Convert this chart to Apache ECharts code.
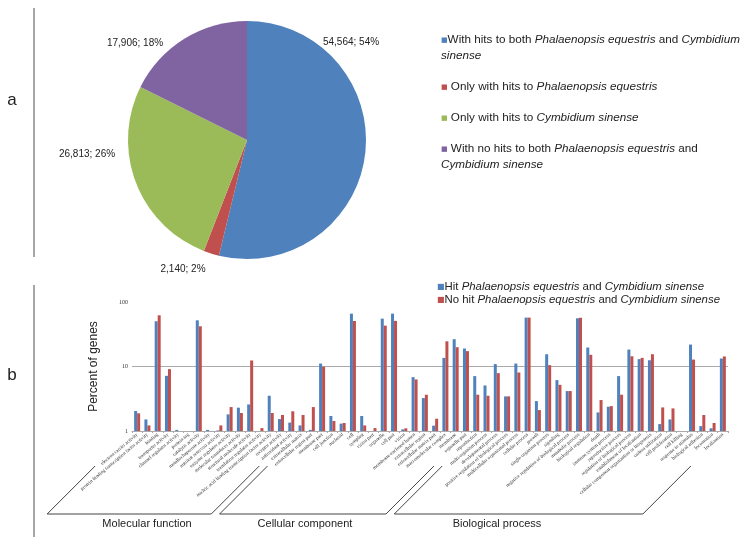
<!DOCTYPE html>
<html><head><meta charset="utf-8">
<script src="https://cdn.jsdelivr.net/npm/echarts@6/dist/echarts.min.js"></script>
<style>html,body{margin:0;padding:0;background:#fff}#c{width:748px;height:542px}</style>
</head><body><div id="c"></div>
<script>
// ---- Panel a data ----
const pieNames = [
  'With hits to both Phalaenopsis equestris and Cymbidium sinense',
  'Only with hits to Phalaenopsis equestris',
  'Only with hits to Cymbidium sinense',
  'With no hits to both Phalaenopsis equestris and Cymbidium sinense'
];
const pieValues = [54564, 2140, 26813, 17906];
const pieColors = ['#4F81BD', '#C0504D', '#9BBB59', '#8064A2'];

// ---- Panel b data ----
const categories = [
  'electron carrier activity','protein binding transcription factor activity','binding','transporter activity',
  'channel regulator activity','protein tag','catalytic activity','metallochaperone activity',
  'nutrient reservoir activity','enzyme regulator activity','molecular transducer activity','structural molecule activity',
  'translation regulator activity','nucleic acid binding transcription factor activity','receptor activity','antioxidant activity',
  'extracellular matrix','extracellular region part','membrane part','cell junction','nucleoid','cell','symplast',
  'virion part','organelle','cell part','virion','membrane-enclosed lumen','extracellular region',
  'extracellular matrix part','macromolecular complex','membrane','organelle part',
  'reproduction','multi-organism process','developmental process','positive regulation of biological process',
  'multicellular organismal process','cellular process','growth','single-organism process','signaling',
  'negative regulation of biological process','metabolic process','biological regulation','death',
  'immune system process','reproductive process','regulation of biological process','establishment of localization',
  'cellular component organization or biogenesis','carbon utilization','cell proliferation','cell killing',
  'response to stimulus','biological adhesion','locomotion','localization'
];
const groupNames = ['Molecular function', 'Cellular component', 'Biological process'];
const groupSizes = [16, 17, 25];
const seriesNames = [
  'Hit Phalaenopsis equestris and Cymbidium sinense',
  'No hit Phalaenopsis equestris and Cymbidium sinense'
];
const hitValues = [
  2.04, 1.51, 50.3, 7.17, 1.04, null, 52, 1.04, 1.02, 1.81, 2.30, 2.58, null, 3.52, 1.53, 1.35,
  1.22, 1.04, 11.1, 1.71, 1.30, 66, 1.71, null, 55.2, 66, 1.06, 6.84, 3.24, 1.21, 13.6, 26.5, 19.0,
  7.1, 5.08, 10.9, 3.44, 11.1, 57.3, 2.91, 15.5, 6.15, 4.16, 55.9, 19.7, 1.94, 2.38, 7.1, 18.3, 13.0,
  12.5, 1.28, 1.51, null, 21.9, 1.19, 1.10, 13.3
];
const noHitValues = [
  1.88, 1.22, 62.2, 9.1, null, null, 42, null, 1.22, 2.35, 1.90, 12.4, 1.11, 1.90, 1.77, 2.02,
  1.77, 2.35, 9.9, 1.43, 1.33, 50.8, 1.22, 1.11, 43, 51, 1.10, 6.3, 3.65, 1.55, 24.6, 19.9, 17.3,
  3.65, 3.52, 7.89, 3.44, 8.07, 57.3, 2.11, 10.5, 5.2, 4.16, 57, 15.2, 3.02, 2.43, 3.65, 14.4, 13.6,
  15.5, 2.32, 2.24, null, 12.8, 1.77, 1.33, 14.3
];
const barColors = ['#4F81BD', '#C0504D'];
const yMin = 1, yMax = 100;

// ---- chart ----
const chart = echarts.init(document.getElementById('c'), null, {renderer: 'canvas'});
const SANS = 'Liberation Sans, Arial, sans-serif';
const SERIF = 'Liberation Serif, Times New Roman, serif';

function pieLegendText(name) {
  const i = pieNames.indexOf(name);
  const m = '{m' + i + '|■}';
  if (i === 0) return m + '{n|With hits to both }{i|Phalaenopsis equestris}{n| and }{i|Cymbidium}\n{i|sinense}';
  if (i === 1) return m + '{n| Only with hits to }{i|Phalaenopsis equestris}';
  if (i === 2) return m + '{n| Only with hits to }{i|Cymbidium sinense}';
  return m + '{n| With no hits to both }{i|Phalaenopsis equestris}{n| and}\n{i|Cymbidium sinense}';
}
function barLegendText(name) {
  const i = seriesNames.indexOf(name);
  return '{m' + i + '|■}{n|' + (i === 0 ? 'Hit ' : 'No hit ') + '}{i|Phalaenopsis equestris}{n| and }{i|Cymbidium sinense}';
}
const pieRich = {n: {fontSize: 11.7, fontFamily: SANS, color: '#222', lineHeight: 16},
                 i: {fontSize: 11.7, fontFamily: SANS, fontStyle: 'italic', color: '#222', lineHeight: 16}};
pieColors.forEach((c, k) => { pieRich['m' + k] = {fontSize: 7, color: c, lineHeight: 16, fontFamily: 'DejaVu Sans'}; });
const barRich = {n: {fontSize: 11.4, fontFamily: SANS, color: '#222', lineHeight: 14},
                 i: {fontSize: 11.4, fontFamily: SANS, fontStyle: 'italic', color: '#222', lineHeight: 14}};
barColors.forEach((c, k) => { barRich['m' + k] = {fontSize: 8, color: c, lineHeight: 14, fontFamily: 'DejaVu Sans'}; });

const pieLabelPos = [[351, 42], [183, 269], [87, 154], [135, 43]];

chart.setOption({
  animation: false,
  backgroundColor: '#fff',
  legend: [
    {data: pieNames, orient: 'vertical', left: 436, top: 34, itemGap: 19, icon: 'none',
     itemWidth: 0, itemHeight: 0, selectedMode: false, padding: 0,
     formatter: pieLegendText, textStyle: {rich: pieRich}},
    {data: seriesNames, orient: 'vertical', left: 432, top: 281, itemGap: 2, icon: 'none',
     itemWidth: 0, itemHeight: 0, selectedMode: false, padding: 0,
     formatter: barLegendText, textStyle: {rich: barRich}}
  ],
  grid: {left: 132, right: 20, top: 302, bottom: 111, containLabel: false},
  xAxis: {
    type: 'category', data: categories,
    axisLine: {lineStyle: {color: '#aaa'}},
    axisTick: {show: true, length: 2, lineStyle: {color: '#aaa'}},
    axisLabel: {interval: 0, rotate: 40, fontSize: 5, fontFamily: SERIF, color: '#333', margin: 3}
  },
  yAxis: {
    type: 'log', logBase: 10, min: yMin, max: yMax,
    name: 'Percent of genes', nameLocation: 'middle', nameGap: 32, nameRotate: 90,
    nameTextStyle: {fontSize: 12, fontFamily: SANS, color: '#222'},
    axisLine: {show: false}, axisTick: {show: false},
    axisLabel: {fontSize: 6, fontFamily: SERIF, color: '#333', margin: 4},
    splitLine: {show: true, showMinLine: false, showMaxLine: false, lineStyle: {color: '#aaa', width: 1}}
  },
  series: [
    {type: 'pie', name: 'a', center: [247, 140], radius: 119, startAngle: 90, clockwise: true,
     data: pieNames.map((n, k) => ({name: n, value: pieValues[k], itemStyle: {color: pieColors[k]}})),
     label: {show: true, fontSize: 10, fontFamily: SANS, color: '#222',
             formatter: p => p.value.toLocaleString('en-US') + '; ' + Math.round(p.percent) + '%'},
     labelLine: {show: false},
     labelLayout: p => ({x: pieLabelPos[p.dataIndex][0], y: pieLabelPos[p.dataIndex][1], align: 'center', verticalAlign: 'middle'}),
     emphasis: {disabled: true}},
    {type: 'bar', name: seriesNames[0], data: hitValues, barWidth: 3, barGap: '0%',
     itemStyle: {color: barColors[0]}, emphasis: {disabled: true}},
    {type: 'bar', name: seriesNames[1], data: noHitValues, barWidth: 3, barGap: '0%',
     itemStyle: {color: barColors[1]}, emphasis: {disabled: true}}
  ]
});

// decorations: panel lines, panel letters, group brackets
const graphics = [
  {type: 'line', shape: {x1: 34, y1: 8, x2: 34, y2: 257}, style: {stroke: '#a6a6a6', lineWidth: 2}},
  {type: 'line', shape: {x1: 34, y1: 285, x2: 34, y2: 537}, style: {stroke: '#a6a6a6', lineWidth: 2}},
  {type: 'text', x: 12, y: 100, style: {text: 'a', fontSize: 17, fontFamily: SANS, fill: '#222', align: 'center', verticalAlign: 'middle'}},
  {type: 'text', x: 12, y: 375, style: {text: 'b', fontSize: 17, fontFamily: SANS, fill: '#222', align: 'center', verticalAlign: 'middle'}}
];
const groupLabelX = [147, 305, 497];
let start = 0;
groupSizes.forEach((n, g) => {
  const x1 = chart.convertToPixel({xAxisIndex: 0}, categories[start]);
  const x2 = chart.convertToPixel({xAxisIndex: 0}, categories[start + n - 1]);
  const yBot = 514, h = 48;
  const bl = x1 - 82 - (g === 0 ? 8 : 0), br = x2 - 80;
  graphics.push({type: 'polyline', shape: {points: [[bl + h, yBot - h], [bl, yBot], [br, yBot], [br + h, yBot - h]]},
                 style: {stroke: '#444', fill: null, lineWidth: 1}, z: 10});
  graphics.push({type: 'text', x: groupLabelX[g], y: 524,
                 style: {text: groupNames[g], fontSize: 11, fontFamily: SANS, fill: '#222', align: 'center', verticalAlign: 'middle'}});
  start += n;
});
chart.setOption({graphic: graphics});
</script></body></html>
